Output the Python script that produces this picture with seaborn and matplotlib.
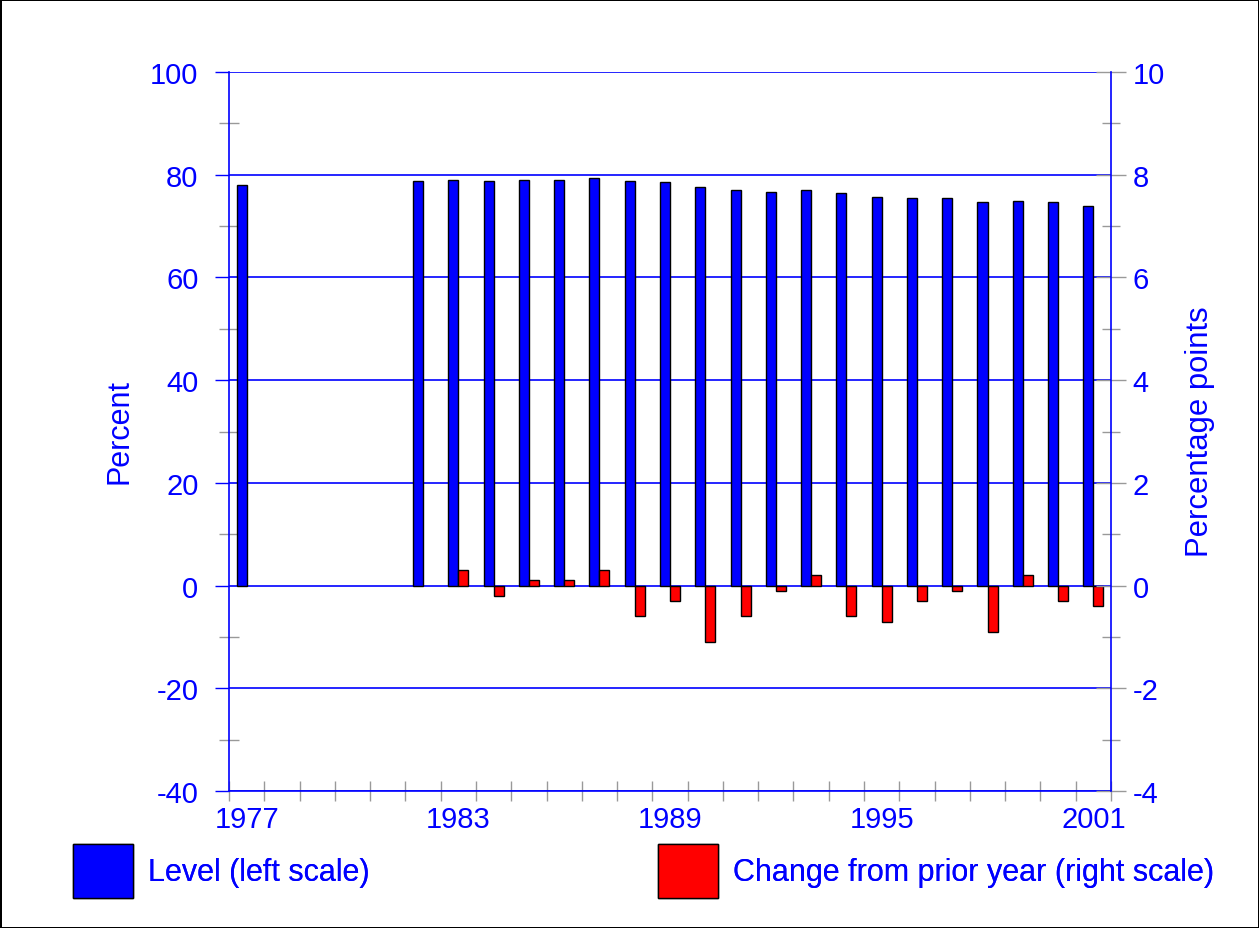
import pandas as pd
import seaborn as sns
import matplotlib.pyplot as plt
from matplotlib.patches import Patch
from matplotlib.ticker import MultipleLocator, FixedLocator

years = [str(y) for y in range(1977, 2002)]

level_years = ["1977"] + [str(y) for y in range(1982, 2002)]
level = [77.9, 78.8, 79.0, 78.8, 79.0, 79.0, 79.4, 78.8, 78.5, 77.6, 77.0,
         76.7, 77.0, 76.4, 75.7, 75.5, 75.5, 74.6, 74.9, 74.6, 73.9]

change_years = [str(y) for y in range(1983, 2002)]
change = [0.3, -0.2, 0.1, 0.1, 0.3, -0.6, -0.3, -1.1, -0.6, -0.1,
          0.2, -0.6, -0.7, -0.3, -0.1, -0.9, 0.2, -0.3, -0.4]

year_labels = ["1977", "1983", "1989", "1995", "2001"]
series = ["Level (left scale)", "Change from prior year (right scale)"]

BLUE = "#0000FF"
RED = "#FF0000"
GRAY = "#999999"

plt.rcParams["font.family"] = ["Liberation Sans", "DejaVu Sans"]
plt.rcParams["axes.unicode_minus"] = False

lev_df = pd.DataFrame({"year": level_years, "value": level, "series": series[0]})
chg_df = pd.DataFrame({"year": change_years, "value": change, "series": series[1]})

fig = plt.figure(figsize=(12.59, 9.29), dpi=100, edgecolor="black", linewidth=2)
ax = fig.add_axes([229 / 1259, 1 - 792 / 929, 882 / 1259, 719 / 929])
ax2 = ax.twinx()

pal = {series[0]: BLUE, series[1]: RED}
sns.barplot(data=lev_df, x="year", y="value", hue="series", order=years,
            hue_order=series, palette=pal, dodge=True, width=0.57,
            edgecolor="black", linewidth=1, saturation=1, legend=False, ax=ax)
sns.barplot(data=chg_df, x="year", y="value", hue="series", order=years,
            hue_order=series, palette=pal, dodge=True, width=0.57,
            edgecolor="black", linewidth=1, saturation=1, legend=False, ax=ax2)

ax.set_xlim(-0.5, len(years) - 0.5)
ax.set_ylim(-40, 100)
ax2.set_ylim(-4, 10)
ax.set_xlabel("")
ax.set_ylabel("")
ax2.set_ylabel("")

# y grid on left scale
ax.set_axisbelow(True)
ax.yaxis.set_major_locator(MultipleLocator(20))
ax.yaxis.set_minor_locator(MultipleLocator(10))
ax.yaxis.grid(True, which="major", color=BLUE, linewidth=1.2)
ax.tick_params(axis="y", which="major", direction="out", length=10, width=1,
               color=BLUE, labelcolor=BLUE, labelsize=21, pad=12)
ax.tick_params(axis="y", which="minor", direction="inout", length=14, width=1,
               color=GRAY)

ax2.yaxis.set_major_locator(MultipleLocator(2))
ax2.yaxis.set_minor_locator(MultipleLocator(1))
ax2.tick_params(axis="y", which="major", direction="inout", length=21, width=1,
                color=GRAY, labelcolor=BLUE, labelsize=21, pad=5)
ax2.tick_params(axis="y", which="minor", direction="inout", length=13, width=1,
                color=GRAY)

# x: labels at category centres, ticks at category boundaries
ax.xaxis.set_major_locator(FixedLocator([years.index(y) for y in year_labels]))
ax.set_xticklabels(year_labels)
ax.xaxis.set_minor_locator(FixedLocator([i - 0.5 for i in range(len(years) + 1)]))
ax.tick_params(axis="x", which="major", length=0, labelcolor=BLUE,
               labelsize=21, pad=10)
ax.tick_params(axis="x", which="minor", direction="inout", length=14.5,
               width=1, color=GRAY)
ax2.tick_params(axis="x", which="both", length=0)

for a in (ax, ax2):
    a.spines["top"].set_visible(False)
    for s in ("left", "right", "bottom"):
        a.spines[s].set_color(BLUE)
        a.spines[s].set_linewidth(1.2)
ax.spines["right"].set_visible(False)
ax2.spines["left"].set_visible(False)
ax2.spines["bottom"].set_visible(False)
ax2.patch.set_visible(False)

fig.text(120 / 1259, 1 - 432 / 929, "Percent", rotation=90, ha="center",
         va="center", color=BLUE, fontsize=22)
fig.text(1200 / 1259, 1 - 432 / 929, "Percentage points", rotation=90,
         ha="center", va="center", color=BLUE, fontsize=22.3)

# legend, two entries placed apart along the bottom
for name, x0 in ((series[0], 73), (series[1], 658)):
    leg = fig.legend(handles=[Patch(facecolor=pal[name], edgecolor="black",
                                    linewidth=1, label=name)],
                     loc="center left", bbox_to_anchor=(x0 / 1259, 1 - 872 / 929),
                     frameon=False, borderpad=0, borderaxespad=0,
                     handlelength=1.96, handleheight=2.34, handletextpad=0.49,
                     fontsize=22, labelcolor=BLUE)
    fig.add_artist(leg)

plt.savefig("out.png", dpi=100)
